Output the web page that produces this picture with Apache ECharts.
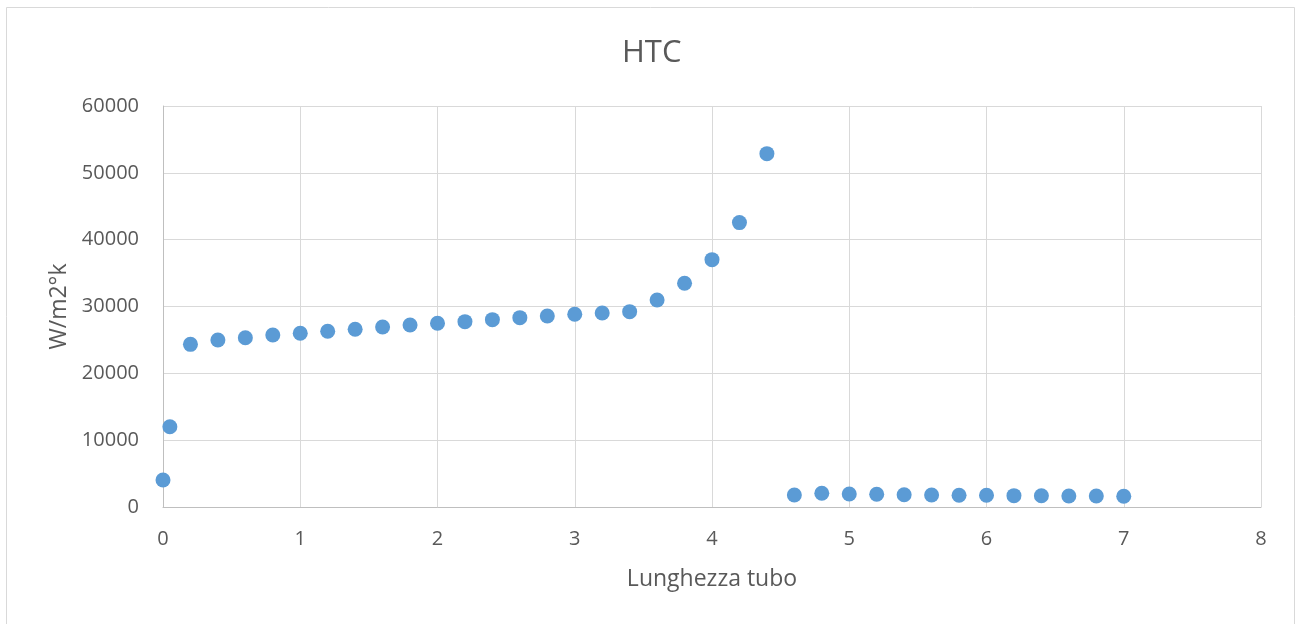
<!DOCTYPE html>
<html>
<head>
<meta charset="utf-8">
<script src="https://cdn.jsdelivr.net/npm/echarts@6/dist/echarts.min.js"></script>
<style>
html,body{margin:0;padding:0;background:#fff;}
#c{width:1297px;height:624px;}
</style>
</head>
<body>
<div id="c"></div>
<script>
const titleText = "HTC";
const xAxisTitle = "Lunghezza tubo";
const yAxisTitle = "W/m2°k";
const xValues = [0, 0.05, 0.2, 0.4, 0.6, 0.8, 1.0, 1.2, 1.4, 1.6, 1.8, 2.0, 2.2, 2.4, 2.6, 2.8, 3.0, 3.2, 3.4, 3.6, 3.8, 4.0, 4.2, 4.4, 4.6, 4.8, 5.0, 5.2, 5.4, 5.6, 5.8, 6.0, 6.2, 6.4, 6.6, 6.8, 7.0];
const htcValues = [4050, 12000, 24340, 24990, 25330, 25740, 25990, 26290, 26590, 26930, 27230, 27490, 27730, 28030, 28330, 28580, 28830, 29030, 29230, 30970, 33470, 37010, 42550, 52870, 1800, 2050, 1950, 1900, 1840, 1800, 1750, 1750, 1700, 1690, 1650, 1650, 1600];

const points = xValues.map((x, i) => [x, htcValues[i]]);
const font = "'Open Sans', sans-serif";
const textColor = "#595959";

const chart = echarts.init(document.getElementById('c'), null, {renderer: 'canvas'});
chart.setOption({
  animation: false,
  backgroundColor: '#ffffff',
  title: {
    text: titleText,
    left: 617,
    top: 33,
    textStyle: {fontFamily: font, fontSize: 31, fontWeight: 'normal', color: textColor}
  },
  graphic: [{
    type: 'rect',
    silent: true,
    shape: {x: 6.5, y: 7.5, width: 1288, height: 640},
    style: {fill: 'none', stroke: '#d9d9d9', lineWidth: 1}
  }],
  grid: {left: 163, right: 36, top: 106, bottom: 117, containLabel: false},
  xAxis: {
    type: 'value',
    min: 0, max: 8, interval: 1,
    name: xAxisTitle,
    nameLocation: 'middle',
    nameGap: 61,
    nameTextStyle: {fontFamily: font, fontSize: 23, color: textColor},
    axisLine: {show: true, lineStyle: {color: '#bfbfbf', width: 1}},
    axisTick: {show: false},
    axisLabel: {fontFamily: font, fontSize: 20, color: textColor, margin: 22},
    splitLine: {show: true, lineStyle: {color: '#d9d9d9', width: 1}}
  },
  yAxis: {
    type: 'value',
    min: 0, max: 60000, interval: 10000,
    name: yAxisTitle,
    nameLocation: 'middle',
    nameRotate: 90,
    nameGap: 89,
    nameTextStyle: {fontFamily: font, fontSize: 23, color: textColor},
    axisLine: {show: true, lineStyle: {color: '#bfbfbf', width: 1}},
    axisTick: {show: false},
    axisLabel: {fontFamily: font, fontSize: 20, color: textColor, margin: 24, formatter: v => String(v)},
    splitLine: {show: true, lineStyle: {color: '#d9d9d9', width: 1}}
  },
  series: [{
    type: 'scatter',
    data: points,
    symbol: 'circle',
    symbolSize: 15,
    itemStyle: {color: '#5b9bd5', opacity: 1}
  }]
});
</script>
</body>
</html>
